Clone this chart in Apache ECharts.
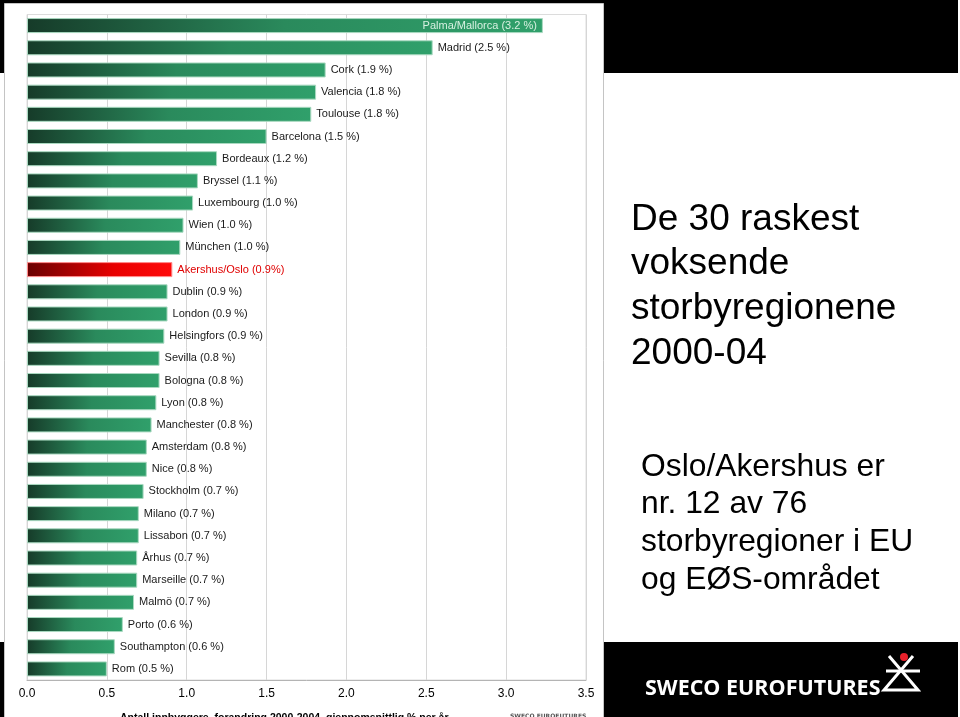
<!DOCTYPE html>
<html><head><meta charset="utf-8">
<script src="https://cdn.jsdelivr.net/npm/echarts@6.0.0/dist/echarts.min.js"></script>
<style>html,body{margin:0;padding:0;background:#fff;overflow:hidden}#c{width:960px;height:717px}</style>
</head><body><div id="c"></div><script>
const categories = ['Palma/Mallorca','Madrid','Cork','Valencia','Toulouse','Barcelona','Bordeaux','Bryssel','Luxembourg','Wien','München','Akershus/Oslo','Dublin','London','Helsingfors','Sevilla','Bologna','Lyon','Manchester','Amsterdam','Nice','Stockholm','Milano','Lissabon','Århus','Marseille','Malmö','Porto','Southampton','Rom'];
const values = [3.23,2.54,1.87,1.81,1.78,1.50,1.19,1.07,1.04,0.98,0.96,0.91,0.88,0.88,0.86,0.83,0.83,0.81,0.78,0.75,0.75,0.73,0.70,0.70,0.69,0.69,0.67,0.60,0.55,0.50];
const labels = ['Palma/Mallorca (3.2 %)','Madrid (2.5 %)','Cork (1.9 %)','Valencia (1.8 %)','Toulouse (1.8 %)','Barcelona (1.5 %)','Bordeaux (1.2 %)','Bryssel (1.1 %)','Luxembourg (1.0 %)','Wien (1.0 %)','München (1.0 %)','Akershus/Oslo (0.9%)','Dublin (0.9 %)','London (0.9 %)','Helsingfors (0.9 %)','Sevilla (0.8 %)','Bologna (0.8 %)','Lyon (0.8 %)','Manchester (0.8 %)','Amsterdam (0.8 %)','Nice (0.8 %)','Stockholm (0.7 %)','Milano (0.7 %)','Lissabon (0.7 %)','Århus (0.7 %)','Marseille (0.7 %)','Malmö (0.7 %)','Porto (0.6 %)','Southampton (0.6 %)','Rom (0.5 %)'];
const highlight = 'Akershus/Oslo';
const insideLabel = 'Palma/Mallorca';
const titleLines = ['De 30 raskest','voksende','storbyregionene','2000-04'];
const noteLines = ['Oslo/Akershus er','nr. 12 av 76','storbyregioner i EU','og EØS-området'];
const axisTitle = 'Antall innbyggere, forandring 2000-2004, gjennomsnittlig % per år';
const logoText = 'SWECO EUROFUTURES';

const FONT = "'Liberation Sans', Arial, sans-serif";
const green = new echarts.graphic.LinearGradient(0,0,1,0,[
  {offset:0,color:'#163b29'},{offset:0.5,color:'#2a8a5c'},{offset:1,color:'#30a06b'}]);
const red = new echarts.graphic.LinearGradient(0,0,1,0,[
  {offset:0,color:'#6a0000'},{offset:0.6,color:'#e80000'},{offset:1,color:'#ff0a0a'}]);

const data = values.map((v,i)=>{
  const isHi = categories[i]===highlight;
  const isIn = categories[i]===insideLabel;
  return {
    value: v, name: categories[i],
    itemStyle: {color: isHi?red:green, borderColor: isHi?'#ff8a8a':'#a9d9c0', borderWidth: 1},
    label: {
      formatter: labels[i],
      position: isIn?'insideRight':'right',
      distance: isIn?6:5,
      color: isIn?'#d6f0e0':(isHi?'#e00000':'#1a1a1a')
    }
  };
});

const graphics = [
  {type:'rect', z:-100, shape:{x:0,y:0,width:958,height:73}, style:{fill:'#000'}},
  {type:'rect', z:-100, shape:{x:0,y:642,width:958,height:75}, style:{fill:'#000'}},
  {type:'rect', z:-90, shape:{x:4.5,y:3.5,width:599,height:720}, style:{fill:'#fff',stroke:'#c4c4c4',lineWidth:1}},
  {type:'text', z:10, left:631, top:197, style:{text:titleLines.join('\n'), font:'37px '+FONT, fill:'#000', lineHeight:44.8}},
  {type:'text', z:10, left:641, top:448, style:{text:noteLines.join('\n'), font:'31.8px '+FONT, fill:'#000', lineHeight:37.8}},
  {type:'text', z:10, left:120, top:713, style:{text:axisTitle, font:'bold 10.5px '+FONT, fill:'#000'}},
  {type:'text', z:10, left:510, top:713, style:{text:logoText, font:"bold 6px 'DejaVu Sans', sans-serif", fill:'#555'}},
  {type:'text', z:10, left:645, top:678, style:{text:logoText, font:"bold 21.5px 'Open Sans', 'DejaVu Sans', sans-serif", fill:'#fff'}},
  {type:'group', z:10, children:[
    {type:'polyline', shape:{points:[[889,656],[918,690],[884,690],[913,656]]}, style:{stroke:'#fff',lineWidth:3,fill:null}},
    {type:'line', shape:{x1:886,y1:671,x2:920,y2:671}, style:{stroke:'#fff',lineWidth:3}},
    {type:'circle', shape:{cx:904,cy:657,r:4}, style:{fill:'#e8202a'}}
  ]}
];

const chart = echarts.init(document.getElementById('c'), null, {renderer:'canvas'});
chart.setOption({
  animation:false,
  textStyle:{fontFamily:FONT},
  graphic: graphics,
  grid:{left:27, right:374, top:14.5, bottom:37, show:true, borderColor:'#dcdcdc', borderWidth:1, containLabel:false},
  xAxis:{type:'value', min:0, max:3.5, interval:0.5,
    axisLine:{show:true, lineStyle:{color:'#b4b4b4'}}, axisTick:{show:false},
    splitLine:{show:true, lineStyle:{color:'#d6d6d6'}},
    axisLabel:{formatter:v=>v.toFixed(1), color:'#000', fontSize:12, margin:8, fontFamily:FONT}},
  yAxis:{type:'category', data:categories, inverse:true,
    axisLine:{show:false}, axisTick:{show:false}, axisLabel:{show:false}, splitLine:{show:false}},
  series:[{type:'bar', data:data, barWidth:15,
    label:{show:true, fontSize:11, fontFamily:FONT}}]
});
</script></body></html>
